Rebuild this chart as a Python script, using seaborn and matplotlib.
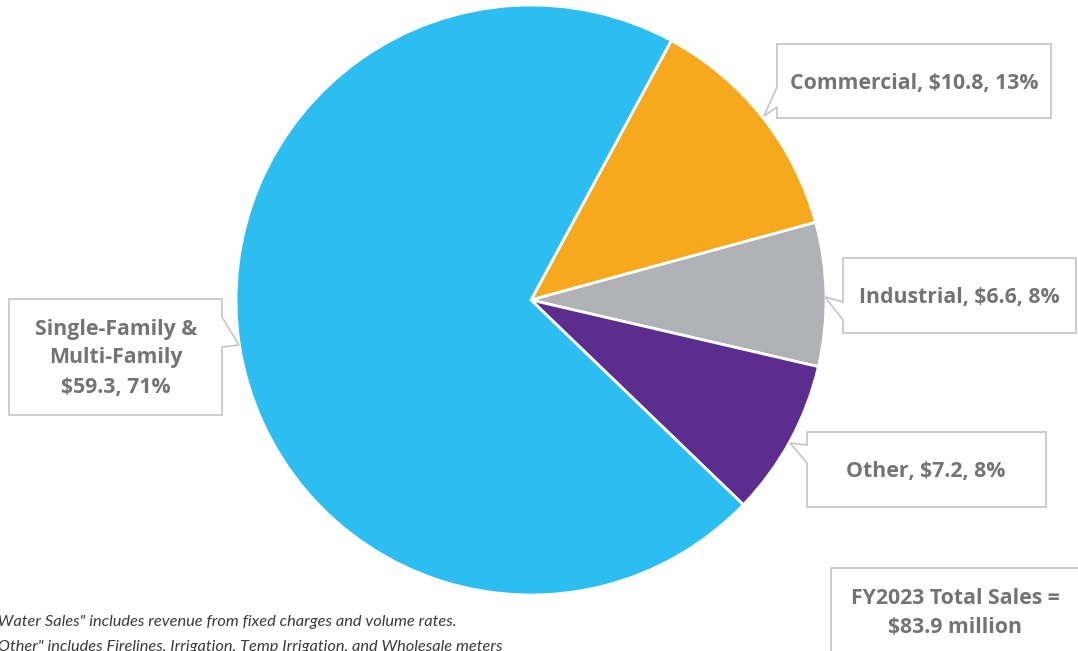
import matplotlib
matplotlib.use('Agg')
import matplotlib.pyplot as plt
import seaborn as sns
from matplotlib.patches import Polygon

# data
categories = ['Commercial', 'Industrial', 'Other', 'Single-Family & Multi-Family']
label_names = ['Commercial', 'Industrial', 'Other', 'Single-Family &\nMulti-Family']
sales = [10.8, 6.6, 7.2, 59.3]
pct = [13, 8, 8, 71]
total_sales = 83.9
colors = ['#F7A91E', '#B0B1B4', '#5C2D8F', '#2CBEF0']

footnotes = ['"Water Sales" includes revenue from fixed charges and volume rates.',
             '"Other" includes Firelines, Irrigation, Temp Irrigation, and Wholesale meters']

sns.set_theme(style='white')
plt.rcParams['font.family'] = ['Open Sans', 'DejaVu Sans']

W, H = 1078, 651
fig = plt.figure(figsize=(W / 100, H / 100), dpi=100)


def fx(x):
    return x / W


def fy(y):
    return 1 - y / H


# pie placed by pixel centre / radius
cx, cy, r = 531, 300, 295
ax = fig.add_axes([fx(cx - r), fy(cy + r), 2 * r / W, 2 * r / H])
ax.pie(sales, colors=colors, startangle=61.6, counterclock=False,
       wedgeprops=dict(edgecolor='white', linewidth=2))
ax.set_xlim(-1, 1)
ax.set_ylim(-1, 1)
ax.set_aspect('equal')
ax.axis('off')

text_gray = '#747474'
border = '#C4C4C4'


def callout(box, tip, b0, b1, side='left'):
    x0, y0, x1, y1 = box
    if side == 'left':
        pts = [(x0, y0), (x1, y0), (x1, y1), (x0, y1), (x0, b1), tip, (x0, b0)]
    else:
        pts = [(x0, y0), (x1, y0), (x1, b0), tip, (x1, b1), (x1, y1), (x0, y1)]
    poly = Polygon([(fx(a), fy(b)) for a, b in pts], closed=True,
                   transform=fig.transFigure, facecolor='white',
                   edgecolor=border, linewidth=1.2, zorder=5)
    fig.patches.append(poly)


boxes = [
    dict(box=(777, 44, 1051, 118), tip=(764, 116), b0=87, b1=107, side='left', c=(914, 83)),
    dict(box=(843, 258, 1076, 333), tip=(825, 297), b0=302, b1=320, side='left', c=(959, 298)),
    dict(box=(807, 432, 1046, 507), tip=(790, 443), b0=445, b1=463, side='left', c=(926, 471)),
    dict(box=(9, 299, 222, 415), tip=(239, 345), b0=317, b1=347, side='right', c=(116, 358)),
]

for name, val, p, b in zip(label_names, sales, pct, boxes):
    callout(b['box'], b['tip'], b['b0'], b['b1'], b['side'])
    fig.text(fx(b['c'][0]), fy(b['c'][1]), f'{name}, ${val}, {p}%' if '\n' not in name
             else f'{name}\n${val}, {p}%',
             ha='center', va='center', fontsize=15.3, fontweight='bold',
             color=text_gray, linespacing=1.5, zorder=6)

# total box (clipped at the figure edge)
callout((831, 568, 1090, 665), (831, 600), 600, 600, 'left')
fig.text(fx(955), fy(613), f'FY2023 Total Sales =\n${total_sales} million',
         ha='center', va='center', fontsize=15.3, fontweight='bold',
         color=text_gray, linespacing=1.55, zorder=6)

# footnotes
for i, line in enumerate(footnotes):
    fig.text(fx(-8), fy(622 + 25 * i), line, ha='left', va='center',
             fontsize=11.8, style='italic', color='#3A3A3A',
             family=['Lato', 'DejaVu Sans'])

fig.savefig('out.png', dpi=100, facecolor='white')
